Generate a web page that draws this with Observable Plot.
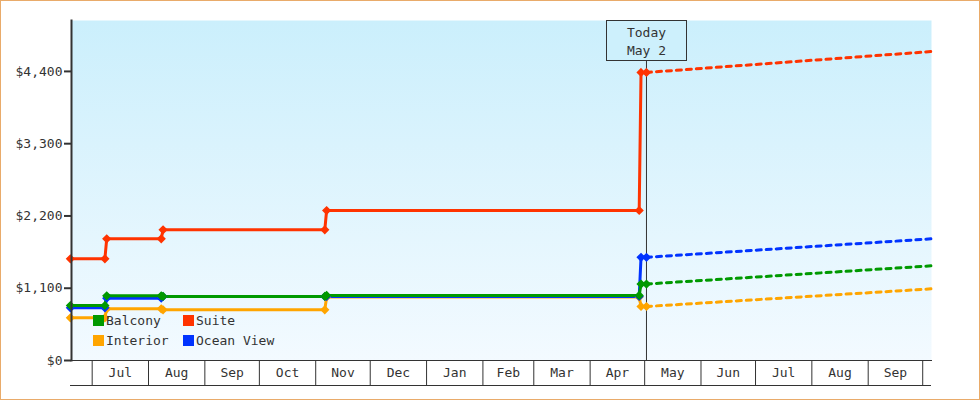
<!DOCTYPE html>
<html>
<head>
<meta charset="utf-8">
<script src="https://cdn.jsdelivr.net/npm/d3@7"></script>
<script src="https://cdn.jsdelivr.net/npm/@observablehq/plot@0.6"></script>
<style>
  html, body { margin: 0; padding: 0; background: #fff; }
  #wrap { position: relative; width: 980px; height: 400px; outline: 1px solid #e9ab6a; outline-offset: -1px; overflow: hidden; }
  #legend { position: absolute; left: 93px; top: 310px; display: grid; grid-template-columns: 90px 120px; grid-auto-rows: 20px;
            font-family: "DejaVu Sans Mono", monospace; font-size: 13px; color: #333; }
  #legend .item { display: flex; align-items: center; white-space: nowrap; }
  #legend .sw { width: 11px; height: 11px; margin-right: 2px; flex: none; }
</style>
</head>
<body>
<div id="wrap"></div>
<script>
// ---- data ----
const categories = ["Balcony", "Suite", "Interior", "Ocean View"];
const colors = ["#009900", "#ff3300", "#ffa500", "#0033ff"];
const drawOrder = ["Interior", "Ocean View", "Balcony", "Suite"];

const dates = ["2024-06-19", "2024-07-08", "2024-07-09", "2024-08-08", "2024-08-09",
               "2024-11-06", "2024-11-07", "2025-04-28", "2025-04-29", "2025-05-02"];
const balcony   = [837, 837, 985, 985, 975, 975, 990, 990, 1164, 1164];
const suite     = [1548, 1548, 1852, 1852, 1989, 1989, 2283, 2283, 4384, 4384];
const interior  = [650, 650, 787, 787, 772, 772, 965, 965, 822, 822];
const oceanView = [802, 802, 948, 948, 974, 974, 974, 974, 1571, 1571];

const forecastDates     = ["2025-05-02", "2025-10-05T20:00"];
const forecastBalcony   = [1164, 1441];
const forecastSuite     = [4384, 4703];
const forecastInterior  = [822, 1091];
const forecastOceanView = [1571, 1852];

const today = "2025-05-02";
const todayLabel = ["Today", "May 2"];
const xDomain = ["2024-06-19T15:00", "2025-10-05T20:00"];
const yDomain = [0, 5175];
const yTicks = [0, 1100, 2200, 3300, 4400];

// ---- tables ----
const parse = s => new Date(s.length === 10 ? s + "T00:00Z" : s + "Z");
const hist = {"Balcony": balcony, "Suite": suite, "Interior": interior, "Ocean View": oceanView};
const fc = {"Balcony": forecastBalcony, "Suite": forecastSuite, "Interior": forecastInterior, "Ocean View": forecastOceanView};
const history = drawOrder.flatMap(s => dates.map((d, i) => ({series: s, date: parse(d), price: hist[s][i]})));
const forecast = drawOrder.flatMap(s => forecastDates.map((d, i) => ({series: s, date: parse(d), price: fc[s][i]})));
const x0 = parse(xDomain[0]), x1 = parse(xDomain[1]);
const monthStarts = d3.utcMonth.range(x0, x1);
const monthMids = monthStarts.slice(0, -1).map((m, i) => new Date((+m + +monthStarts[i + 1]) / 2));
const todayDate = parse(today);

const gradient = () => {
  const defs = d3.create("svg:defs");
  const g = defs.append("linearGradient").attr("id", "bgGrad").attr("x1", 0).attr("y1", 0).attr("x2", 0).attr("y2", 1);
  g.append("stop").attr("offset", "0%").attr("stop-color", "#cbeffc");
  g.append("stop").attr("offset", "100%").attr("stop-color", "#f3faff");
  return defs.node();
};

const bottomRule = (index, scales, values, dims) => {
  const y = dims.height - dims.marginBottom + 25.5;
  return d3.create("svg:line")
    .attr("x1", dims.marginLeft - 1).attr("x2", dims.width - dims.marginRight)
    .attr("y1", y).attr("y2", y).attr("stroke", "#333").node();
};

const todayBox = (index, scales, values, dims) => {
  const cx = Math.round(scales.x(todayDate)) + 0.5;
  const g = d3.create("svg:g");
  g.append("rect").attr("x", cx - 40).attr("y", dims.marginTop + 0.5).attr("width", 80).attr("height", 40)
    .attr("fill", "#cdf0fc").attr("stroke", "#333");
  g.selectAll("text").data(todayLabel).join("text")
    .attr("x", cx).attr("y", (d, i) => dims.marginTop + 12 + i * 18).attr("dy", "0.35em")
    .attr("text-anchor", "middle").attr("fill", "#333").text(d => d);
  return g.node();
};

const chart = Plot.plot({
  width: 980,
  height: 400,
  marginLeft: 71,
  marginRight: 49,
  marginTop: 20,
  marginBottom: 40,
  style: {fontFamily: "DejaVu Sans Mono", fontSize: "13px", color: "#333", background: "transparent"},
  x: {type: "utc", domain: [x0, x1]},
  y: {domain: yDomain},
  color: {domain: categories, range: colors},
  marks: [
    gradient,
    Plot.frame({fill: "url(#bgGrad)", stroke: "none"}),
    Plot.ruleX([todayDate], {stroke: "#333", strokeWidth: 1}),
    Plot.frame({anchor: "bottom", stroke: "#333", strokeWidth: 1}),
    Plot.axisY({ticks: yTicks, tickSize: 7, tickPadding: 2, strokeWidth: 2, label: null,
                tickFormat: d => "$" + d3.format(",")(d)}),
    Plot.axisX({ticks: monthStarts, tickSize: 25, tickFormat: () => "", label: null}),
    Plot.axisX({ticks: monthMids, tickSize: 0, tickPadding: 7, tickFormat: d3.utcFormat("%b"), label: null}),
    bottomRule,
    Plot.line(forecast, {x: "date", y: "price", z: "series", stroke: "series", strokeWidth: 3, strokeDasharray: "5,5"}),
    Plot.line(history, {x: "date", y: "price", z: "series", stroke: "series", strokeWidth: 3}),
    Plot.dot(history, {x: "date", y: "price", fill: "series", stroke: "series", symbol: "diamond2", r: 3.2, strokeWidth: 1.5}),
    todayBox,
    Plot.frame({anchor: "left", stroke: "#333", strokeWidth: 2})
  ]
});

const wrap = document.getElementById("wrap");
wrap.appendChild(chart);

const legend = document.createElement("div");
legend.id = "legend";
// grid fills row by row: Balcony, Suite / Interior, Ocean View
for (const name of categories) {
  const item = document.createElement("div");
  item.className = "item";
  const sw = document.createElement("span");
  sw.className = "sw";
  sw.style.background = colors[categories.indexOf(name)];
  item.appendChild(sw);
  item.appendChild(document.createTextNode(name));
  legend.appendChild(item);
}
wrap.appendChild(legend);
</script>
</body>
</html>
